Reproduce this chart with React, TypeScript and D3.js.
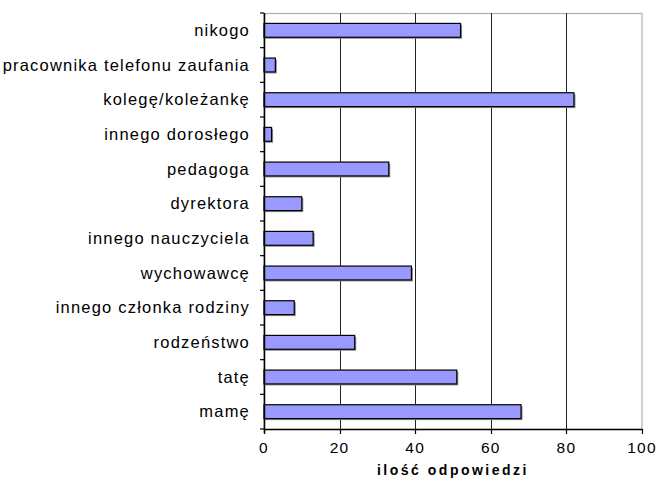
import React, { useEffect, useRef } from "react";
import * as d3 from "d3";

// categories top to bottom
const categories: string[] = [
  "nikogo",
  "pracownika telefonu zaufania",
  "kolegę/koleżankę",
  "innego dorosłego",
  "pedagoga",
  "dyrektora",
  "innego nauczyciela",
  "wychowawcę",
  "innego członka rodziny",
  "rodzeństwo",
  "tatę",
  "mamę",
];
const values: number[] = [52, 3, 82, 2, 33, 10, 13, 39, 8, 24, 51, 68];
const xTicks: number[] = [0, 20, 40, 60, 80, 100];
const xTitle = "ilość odpowiedzi";

const App = () => {
  const ref = useRef<any>(null);
  const width = 661;
  const height = 479;
  const left = 264;
  const right = 642;
  const top = 13;
  const bottom = 429;

  useEffect(() => {
    const svg = d3.select(ref.current);
    svg.selectAll("*").remove();

    const x = d3.scaleLinear().domain([0, 100]).range([left, right]);
    const y = d3
      .scaleBand()
      .domain(categories)
      .range([top, bottom])
      .paddingInner(0.6)
      .paddingOuter(0.3);

    const font = "'Liberation Sans', Arial, sans-serif";

    // plot frame (grey)
    svg
      .append("rect")
      .attr("x", left)
      .attr("y", top + 0.5)
      .attr("width", right - left)
      .attr("height", bottom - top)
      .attr("fill", "none")
      .attr("stroke", "#b0b0b0")
      .attr("stroke-width", 1.2);

    // gridlines
    svg
      .selectAll(".grid")
      .data(xTicks.filter((d) => d > 0 && d < 100))
      .enter()
      .append("line")
      .attr("x1", (d) => Math.round(x(d)) + 0.5)
      .attr("x2", (d) => Math.round(x(d)) + 0.5)
      .attr("y1", top)
      .attr("y2", bottom)
      .attr("stroke", "#222")
      .attr("stroke-width", 1);

    // bars: shadow then bar
    const bars = svg
      .selectAll(".bar")
      .data(categories)
      .enter()
      .append("g");

    bars
      .append("rect")
      .attr("x", left + 1.5)
      .attr("y", (d) => (y(d) as number) + 1.5)
      .attr("width", (d, i) => x(values[i]) - left)
      .attr("height", y.bandwidth())
      .attr("fill", "#8a8a8a");

    bars
      .append("rect")
      .attr("x", left)
      .attr("y", (d) => y(d) as number)
      .attr("width", (d, i) => x(values[i]) - left)
      .attr("height", y.bandwidth())
      .attr("fill", "#9999ff")
      .attr("stroke", "#000")
      .attr("stroke-width", 1.2);

    // y axis
    svg
      .append("line")
      .attr("x1", left + 0.5)
      .attr("x2", left + 0.5)
      .attr("y1", top)
      .attr("y2", bottom + 4)
      .attr("stroke", "#000")
      .attr("stroke-width", 1.5);

    const yBounds = categories.map((d) => (y(d) as number) - (y.step() * y.paddingInner()) / 2);
    yBounds.push(bottom);
    svg
      .selectAll(".ytick")
      .data(yBounds)
      .enter()
      .append("line")
      .attr("x1", left - 4)
      .attr("x2", left)
      .attr("y1", (d) => d)
      .attr("y2", (d) => d)
      .attr("stroke", "#000")
      .attr("stroke-width", 1.2);

    svg
      .selectAll(".ylabel")
      .data(categories)
      .enter()
      .append("text")
      .attr("x", 250)
      .attr("y", (d) => (y(d) as number) + y.bandwidth() / 2)
      .attr("dy", "0.35em")
      .attr("text-anchor", "end")
      .style("font-family", font)
      .style("font-size", "16.5px")
      .style("letter-spacing", "1.2px")
      .style("fill", "#000")
      .text((d) => d);

    // x axis
    svg
      .append("line")
      .attr("x1", left)
      .attr("x2", right)
      .attr("y1", bottom + 0.5)
      .attr("y2", bottom + 0.5)
      .attr("stroke", "#000")
      .attr("stroke-width", 1.5);

    svg
      .selectAll(".xtick")
      .data(xTicks)
      .enter()
      .append("line")
      .attr("x1", (d) => Math.round(x(d)) + 0.5)
      .attr("x2", (d) => Math.round(x(d)) + 0.5)
      .attr("y1", bottom)
      .attr("y2", bottom + 5)
      .attr("stroke", "#000")
      .attr("stroke-width", 1.2);

    svg
      .selectAll(".xlabel")
      .data(xTicks)
      .enter()
      .append("text")
      .attr("x", (d) => x(d))
      .attr("y", 448)
      .attr("dy", "0.35em")
      .attr("text-anchor", "middle")
      .style("font-family", font)
      .style("font-size", "15.5px")
      .style("letter-spacing", "1.2px")
      .text((d) => String(d));

    svg
      .append("text")
      .attr("x", (left + right) / 2)
      .attr("y", 470)
      .attr("dy", "0.35em")
      .attr("text-anchor", "middle")
      .style("font-family", font)
      .style("font-size", "14px")
      .style("font-weight", "bold")
      .style("letter-spacing", "2.5px")
      .text(xTitle);
  }, []);

  return (
    <svg
      ref={ref}
      width={width}
      height={height}
      style={{ position: "absolute", left: 0, top: 0, background: "#fff" }}
    ></svg>
  );
};

export default App;
